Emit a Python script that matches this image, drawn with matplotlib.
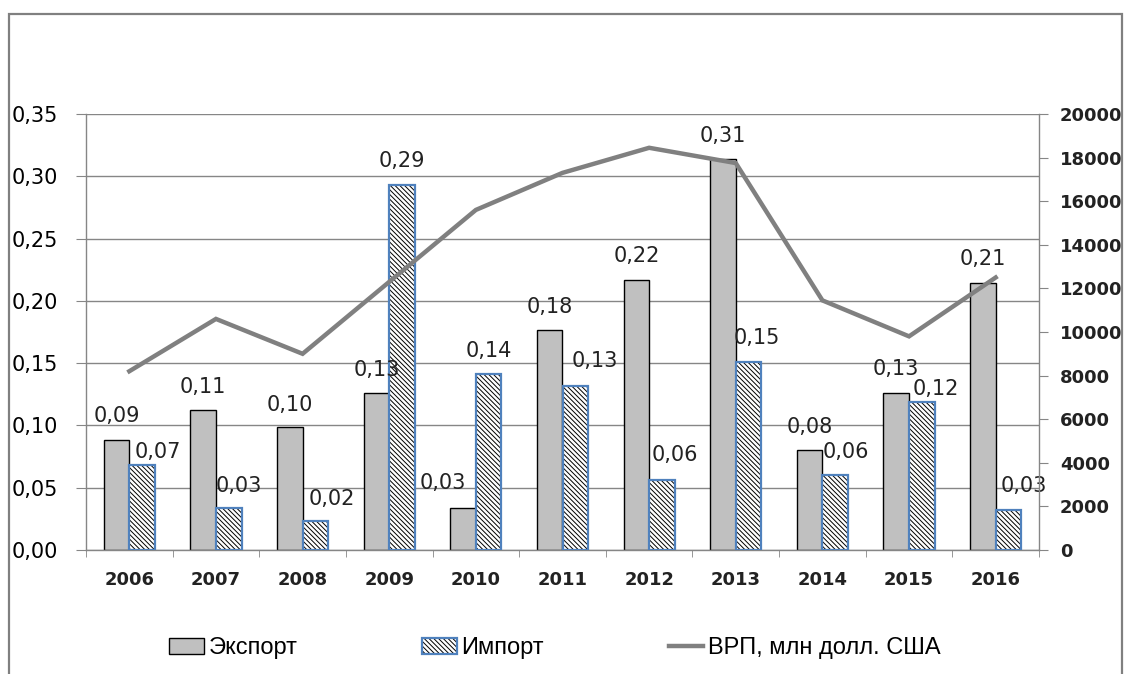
import matplotlib
matplotlib.use('Agg')
import matplotlib.pyplot as plt
from matplotlib.patches import Rectangle, Patch
from matplotlib.lines import Line2D
from matplotlib.ticker import FuncFormatter, FixedLocator
import numpy as np

# ---------------- data ----------------
years = ['2006', '2007', '2008', '2009', '2010', '2011', '2012', '2013', '2014', '2015', '2016']
export = [0.088, 0.112, 0.099, 0.126, 0.034, 0.177, 0.217, 0.314, 0.080, 0.126, 0.214]
imports = [0.068, 0.034, 0.023, 0.293, 0.141, 0.132, 0.056, 0.151, 0.060, 0.119, 0.032]
gdp = [8200, 10600, 9000, 12300, 15600, 17300, 18450, 17750, 11450, 9800, 12500]

series_names = ['Экспорт', 'Импорт', 'ВРП, млн долл. США']

# label offsets in pixels (style only)
exp_dx = [0, 0, 0, 0, -20, 0, 0, 0, 0, 0, 0]
exp_dy = [18, 17, 16, 17, 19, 17, 18, 17, 17, 18, 18]
imp_dx = [16, 10, 16, 0, 0, 20, 13, 8, 11, 14, 15]
imp_dy = [7, 16, 16, 18, 17, 19, 19, 18, 17, 7, 18]

PX = 72 / 100.0
HATCH = '\\' * 7

plt.rcParams['hatch.linewidth'] = 0.7
plt.rcParams['font.family'] = ['DejaVu Sans']

W, H = 1127, 674
fig = plt.figure(figsize=(W / 100, H / 100), dpi=100)
ax = fig.add_axes([86 / W, 1 - 550 / H, (1039 - 86) / W, (550 - 114) / H])

x = np.arange(len(years))
w = 0.295
ax.bar(x - w / 2, export, w, color='#c0c0c0', edgecolor='black', linewidth=1.0, zorder=2)
ax.bar(x + w / 2, imports, w, color='white', edgecolor='black', hatch=HATCH, linewidth=0, zorder=2)
ax.bar(x + w / 2, imports, w, fill=False, edgecolor='#4f81bd', linewidth=1.6, zorder=3)

ax.set_xlim(-0.5, len(years) - 0.5)
ax.set_ylim(0, 0.35)
ax.set_yticks(np.arange(0, 0.351, 0.05))
ax.yaxis.set_major_formatter(FuncFormatter(lambda v, p: f'{v:.2f}'.replace('.', ',')))
ax.grid(axis='y', color='#868686', lw=1.0, zorder=0)
ax.set_axisbelow(True)

ax.set_xticks(x)
ax.set_xticklabels(years)
ax.xaxis.set_minor_locator(FixedLocator(np.arange(-0.5, len(years), 1.0)))
ax.tick_params(axis='x', which='major', length=0, pad=15, labelsize=13)
ax.tick_params(axis='x', which='minor', length=5, color='#868686', direction='out')
for t in ax.get_xticklabels():
    t.set_fontweight('bold')
    t.set_color('#222222')
ax.tick_params(axis='y', length=7, color='#868686', pad=13, labelsize=15)

for s in ['top', 'right']:
    ax.spines[s].set_visible(False)
for s in ['left', 'bottom']:
    ax.spines[s].set_color('#868686')
    ax.spines[s].set_linewidth(1.0)

def fmt(v):
    return f'{v:.2f}'.replace('.', ',')

for i in range(len(years)):
    ax.annotate(fmt(export[i]), (x[i] - w / 2, export[i]),
                xytext=(exp_dx[i] * PX, exp_dy[i] * PX), textcoords='offset points',
                ha='center', va='baseline', fontsize=15, color='#222222', zorder=5)
    ax.annotate(fmt(imports[i]), (x[i] + w / 2, imports[i]),
                xytext=(imp_dx[i] * PX, imp_dy[i] * PX), textcoords='offset points',
                ha='center', va='baseline', fontsize=15, color='#222222', zorder=5)

ax2 = ax.twinx()
ax2.plot(x, gdp, color='#808080', lw=3.2, solid_joinstyle='miter', zorder=4)
ax2.set_ylim(0, 20000)
ax2.set_yticks(np.arange(0, 20001, 2000))
ax2.tick_params(axis='y', length=6.5, color='#868686', pad=8.5, labelsize=13)
for t in ax2.get_yticklabels():
    t.set_fontweight('bold')
    t.set_color('#222222')
for s in ['top', 'left', 'bottom']:
    ax2.spines[s].set_visible(False)
ax2.spines['right'].set_color('#868686')
ax2.spines['right'].set_linewidth(1.0)

# outer frame
fig.add_artist(Rectangle((9 / W, -0.1), (1122 - 9) / W, (674 - 14) / H + 0.1,
                         transform=fig.transFigure, fill=False,
                         edgecolor='#808080', lw=1.6))

h1 = Patch(facecolor='#c0c0c0', edgecolor='black', linewidth=1.0)
h2a = Patch(facecolor='white', edgecolor='black', hatch=HATCH, linewidth=0)
h2b = Patch(fill=False, edgecolor='#4f81bd', linewidth=1.6)
h3 = Line2D([], [], color='#808080', lw=3.2)
fig.legend([h1, (h2a, h2b), h3], series_names, loc='center',
           bbox_to_anchor=(555 / W, 1 - 648 / H), ncol=3, frameon=False,
           prop={'family': 'Liberation Sans', 'size': 17},
           handlelength=1.45, handleheight=0.65, handletextpad=0.2, columnspacing=5.3)

fig.savefig('out.png', dpi=100)
